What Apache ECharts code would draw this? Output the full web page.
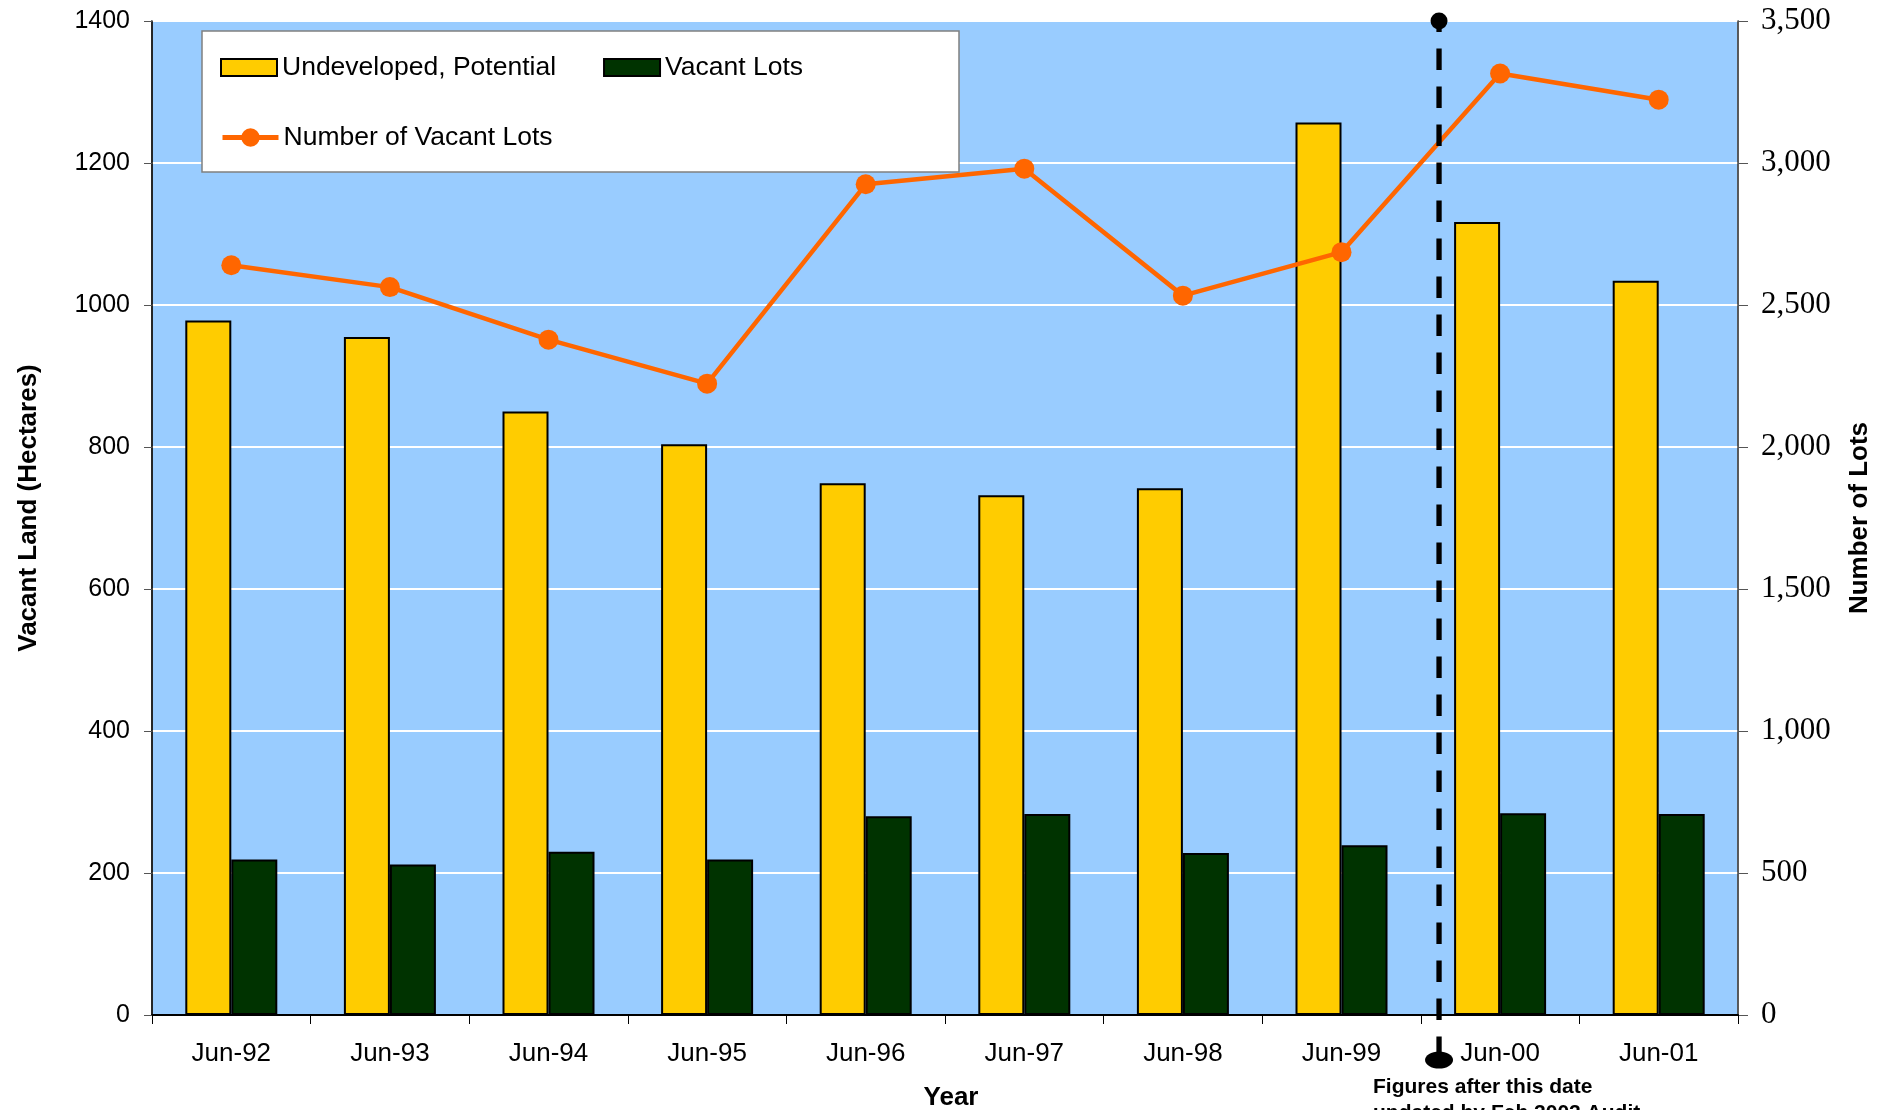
<!DOCTYPE html>
<html>
<head>
<meta charset="utf-8">
<title>Vacant Land and Vacant Lots</title>
<script src="https://cdn.jsdelivr.net/npm/echarts@6/dist/echarts.min.js"></script>
<style>
  html, body { margin: 0; padding: 0; background: #ffffff; }
  #chart { width: 1892px; height: 1110px; }
</style>
</head>
<body>
<div id="chart"></div>
<script>
// Survey dates (June of each year)
const months = ['Jun-92', 'Jun-93', 'Jun-94', 'Jun-95', 'Jun-96', 'Jun-97', 'Jun-98', 'Jun-99', 'Jun-00', 'Jun-01'];
// Vacant land, hectares
const undevelopedPotential = [978, 955, 850, 804, 749, 732, 742, 1257, 1117, 1034];
const vacantLotsArea = [219, 212, 230, 219, 280, 283, 228, 239, 284, 283];
// Number of vacant lots
const vacantLotCount = [2640, 2563, 2378, 2223, 2925, 2980, 2533, 2686, 3315, 3223];

// Series names and text
const seriesNames = ['Undeveloped, Potential', 'Vacant Lots', 'Number of Vacant Lots'];
const leftTitle = 'Vacant Land (Hectares)';
const rightTitle = 'Number of Lots';
const xTitle = 'Year';
const noteLines = ['Figures after this date', 'updated by Feb 2002 Audit'];
// The audit marker sits between these two surveys
const markerAfter = 'Jun-99';
const markerBefore = 'Jun-00';

const SANS = '"Liberation Sans", Arial, sans-serif';
const SERIF = '"Liberation Serif", "Times New Roman", serif';

const chart = echarts.init(document.getElementById('chart'), null, { renderer: 'canvas' });

const option = {
  animation: false,
  backgroundColor: '#ffffff',
  grid: {
    left: 152, right: 154, top: 21, bottom: 95,
    show: true,
    backgroundColor: '#99CCFF',
    borderColor: '#808080',
    borderWidth: 1.5
  },
  legend: [
    {
      data: [
        { name: seriesNames[0], icon: 'rect' },
        { name: seriesNames[1], icon: 'rect' }
      ],
      left: 220, top: 54,
      padding: 0,
      itemWidth: 56, itemHeight: 17, itemGap: 47,
      textStyle: { fontFamily: SANS, fontSize: 26.5, color: '#000' },
      z: 20
    },
    {
      data: [seriesNames[2]],
      left: 220, top: 124,
      padding: 0,
      itemWidth: 56, itemHeight: 23, itemGap: 44,
      lineStyle: { width: 5 },
      textStyle: { fontFamily: SANS, fontSize: 26.5, color: '#000' },
      z: 20
    }
  ],
  xAxis: {
    type: 'category',
    data: months,
    boundaryGap: true,
    axisLine: { show: true, lineStyle: { color: '#000', width: 2 } },
    axisTick: { show: true, length: 9, lineStyle: { color: '#000', width: 1 } },
    axisLabel: { fontFamily: SANS, fontSize: 26, color: '#000', margin: 26 },
    splitLine: { show: false }
  },
  yAxis: [
    {
      type: 'value',
      min: 0, max: 1400, interval: 200,
      axisLine: { show: true, lineStyle: { color: '#000', width: 1.5 } },
      axisTick: { show: true, length: 8, lineStyle: { color: '#555', width: 1 } },
      axisLabel: {
        fontFamily: SANS, fontSize: 25, color: '#000', margin: 22,
        formatter: v => String(v)
      },
      splitLine: { show: true, lineStyle: { color: '#ffffff', width: 2 } }
    },
    {
      type: 'value',
      position: 'right',
      min: 0, max: 3500, interval: 500,
      axisLine: { show: true, lineStyle: { color: '#444', width: 1.5 } },
      axisTick: { show: true, length: 10, lineStyle: { color: '#555', width: 1 } },
      axisLabel: {
        fontFamily: SERIF, fontSize: 31, color: '#000', margin: 23,
        formatter: v => v.toLocaleString('en-US')
      },
      splitLine: { show: false }
    }
  ],
  series: [
    {
      name: seriesNames[0],
      type: 'bar',
      data: undevelopedPotential,
      barWidth: 46,
      barGap: '0%',
      itemStyle: { color: '#FFCC00', borderColor: '#000', borderWidth: 2 }
    },
    {
      name: seriesNames[1],
      type: 'bar',
      data: vacantLotsArea,
      barWidth: 46,
      barGap: '0%',
      itemStyle: { color: '#003300', borderColor: '#000', borderWidth: 2 }
    },
    {
      name: seriesNames[2],
      type: 'line',
      yAxisIndex: 1,
      data: vacantLotCount,
      symbol: 'circle',
      symbolSize: 20,
      lineStyle: { color: '#FF6600', width: 4.5 },
      itemStyle: { color: '#FF6600' },
      z: 5
    }
  ]
};

chart.setOption(option);

// Place the audit marker and annotations using the axes' own scales
const xA = chart.convertToPixel({ xAxisIndex: 0 }, markerAfter);
const xB = chart.convertToPixel({ xAxisIndex: 0 }, markerBefore);
const step = xB - xA;
const markerX = (xA + xB) / 2 + 0.115 * step;
const yTop = chart.convertToPixel({ yAxisIndex: 0 }, 1400);
const yBase = chart.convertToPixel({ yAxisIndex: 0 }, 0);
const plotMidX = (chart.convertToPixel({ xAxisIndex: 0 }, months[0]) + chart.convertToPixel({ xAxisIndex: 0 }, months[months.length - 1])) / 2;
const plotMidY = (yTop + yBase) / 2;

chart.setOption({
  graphic: [
    // legend frame
    {
      type: 'rect', z: 10,
      shape: { x: 202, y: 31, width: 757, height: 141 },
      style: { fill: '#ffffff', stroke: '#808080', lineWidth: 1.5 }
    },
    // audit marker: dashed line with a dot at the top and a pin below the axis
    {
      type: 'line', z: 30,
      shape: { x1: markerX, y1: yTop, x2: markerX, y2: yBase + 41 },
      style: { stroke: '#000', lineWidth: 5.3, lineDash: [21.3, 16.7], lineDashOffset: 10.4 }
    },
    {
      type: 'circle', z: 31,
      shape: { cx: markerX, cy: yTop, r: 8.5 },
      style: { fill: '#000' }
    },
    {
      type: 'ellipse', z: 31,
      shape: { cx: markerX, cy: yBase + 45, rx: 14, ry: 8.6 },
      style: { fill: '#000' }
    },
    // axis titles
    {
      type: 'text', z: 30, x: 28.5, y: plotMidY - 10, rotation: Math.PI / 2,
      style: {
        text: leftTitle, fill: '#000',
        font: 'bold 26px ' + SANS,
        textAlign: 'center', textVerticalAlign: 'middle'
      }
    },
    {
      type: 'text', z: 30, x: 1860, y: plotMidY, rotation: Math.PI / 2,
      style: {
        text: rightTitle, fill: '#000',
        font: 'bold 26px ' + SANS,
        textAlign: 'center', textVerticalAlign: 'middle'
      }
    },
    {
      type: 'text', z: 30, x: plotMidX + 6, y: yBase + 83,
      style: {
        text: xTitle, fill: '#000',
        font: 'bold 26px ' + SANS,
        textAlign: 'center', textVerticalAlign: 'middle'
      }
    },
    // note under the marker
    {
      type: 'text', z: 30, x: markerX - 66, y: yBase + 72,
      style: {
        text: noteLines[0], fill: '#000',
        font: 'bold 21px ' + SANS,
        textAlign: 'left', textVerticalAlign: 'middle'
      }
    },
    {
      type: 'text', z: 30, x: markerX - 66, y: yBase + 98.5,
      style: {
        text: noteLines[1], fill: '#000',
        font: 'bold 21px ' + SANS,
        textAlign: 'left', textVerticalAlign: 'middle'
      }
    }
  ]
});
</script>
</body>
</html>
